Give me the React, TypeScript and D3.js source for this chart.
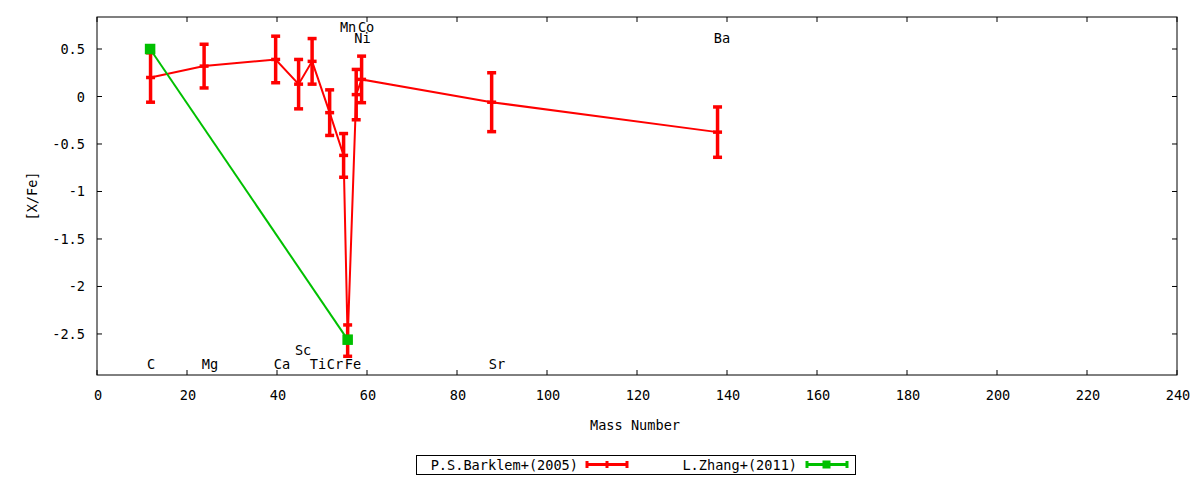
import * as d3 from 'd3';

// Barklem et al. (2005) abundances
const barklemElements = ['C', 'Mg', 'Ca', 'Sc', 'Ti', 'Cr', 'Mn', 'Fe', 'Co', 'Ni', 'Sr', 'Ba'];
const barklemMass = [11.9, 23.8, 39.7, 44.8, 47.8, 51.7, 54.8, 55.7, 57.6, 58.8, 87.7, 137.9];
const barklemValue = [0.2, 0.32, 0.39, 0.13, 0.37, -0.17, -0.62, -2.57, 0.02, 0.18, -0.06, -0.375];
const barklemError = [0.26, 0.23, 0.245, 0.26, 0.24, 0.24, 0.23, 0.165, 0.265, 0.245, 0.31, 0.265];

// Zhang et al. (2011)
const zhangMass = [11.8, 55.7];
const zhangValue = [0.5, -2.56];
const zhangError = [0, 0];

// element labels placed in the plot
const labelText = ['C', 'Mg', 'Ca', 'Sc', 'Ti', 'Cr', 'Fe', 'Sr', 'Mn', 'Co', 'Ni', 'Ba'];
const labelMass = [12.0, 25.1, 41.1, 45.8, 49.1, 52.9, 56.9, 88.9, 55.8, 59.8, 59.0, 138.9];
const labelY = [-2.82, -2.82, -2.82, -2.67, -2.82, -2.82, -2.82, -2.82, 0.73, 0.73, 0.615, 0.62];

const xTicks = d3.range(0, 241, 20);
const yTicks = [0.5, 0, -0.5, -1, -1.5, -2, -2.5];

const seriesNames = ['P.S.Barklem+(2005)', 'L.Zhang+(2011)'];
const RED = '#ff0000';
const GREEN = '#00c000';
const FONT = '"DejaVu Sans Mono", monospace';

export default function App() {
  const width = 1200;
  const height = 480;
  const left = 97;
  const right = 1177;
  const top = 17;
  const bottom = 375;

  const x = d3.scaleLinear().domain([0, 240]).range([left, right]);
  const y = d3.scaleLinear().domain([-2.932, 0.837]).range([bottom, top]);

  const line = d3.line<[number, number]>()
    .x((d) => x(d[0]))
    .y((d) => y(d[1]));

  const redPts = barklemMass.map((m, i) => [m, barklemValue[i]] as [number, number]);
  const greenPts = zhangMass.map((m, i) => [m, zhangValue[i]] as [number, number]);

  const tick = 5;
  const cap = 4.5;

  return (
    <svg width={width} height={height} style={{ position: 'absolute', left: 0, top: 0, background: '#fff' }}
      fontFamily={FONT} fontSize={13.6}>
      <rect x={0} y={0} width={width} height={height} fill="#fff" />

      {/* ticks, mirrored on all sides */}
      {xTicks.map((t) => (
        <g key={'xt' + t}>
          <line x1={x(t)} x2={x(t)} y1={bottom} y2={bottom - tick} stroke="#000" />
          <line x1={x(t)} x2={x(t)} y1={top} y2={top + tick} stroke="#000" />
          <text x={x(t) + 1} y={395} textAnchor="middle" dominantBaseline="central">{t}</text>
        </g>
      ))}
      {yTicks.map((t) => (
        <g key={'yt' + t}>
          <line x1={left} x2={left + tick} y1={y(t)} y2={y(t)} stroke="#000" />
          <line x1={right} x2={right - tick} y1={y(t)} y2={y(t)} stroke="#000" />
          <text x={85} y={y(t)} textAnchor="end" dominantBaseline="central">{String(t)}</text>
        </g>
      ))}

      {/* element labels */}
      {labelText.map((s, i) => (
        <text key={'lab' + i} x={x(labelMass[i])} y={y(labelY[i])} textAnchor="middle" dominantBaseline="central">{s}</text>
      ))}

      {/* Barklem series */}
      <path d={line(redPts)!} fill="none" stroke={RED} strokeWidth={2} />
      {barklemMass.map((m, i) => {
        const cx = x(m);
        const y0 = y(barklemValue[i] - barklemError[i]);
        const y1 = y(barklemValue[i] + barklemError[i]);
        const yc = y(barklemValue[i]);
        return (
          <g key={'rb' + barklemElements[i]} stroke={RED} strokeWidth={3.5}>
            <line x1={cx} x2={cx} y1={y0} y2={y1} />
            <line x1={cx - cap} x2={cx + cap} y1={y0} y2={y0} />
            <line x1={cx - cap} x2={cx + cap} y1={y1} y2={y1} />
            <line x1={cx - cap} x2={cx + cap} y1={yc} y2={yc} />
          </g>
        );
      })}

      {/* Zhang series */}
      <path d={line(greenPts)!} fill="none" stroke={GREEN} strokeWidth={2} />
      {zhangMass.map((m, i) => {
        const cx = x(m);
        const yc = y(zhangValue[i]);
        const y0 = y(zhangValue[i] - zhangError[i]);
        const y1 = y(zhangValue[i] + zhangError[i]);
        return (
          <g key={'gb' + i} stroke={GREEN} strokeWidth={3.5}>
            <line x1={cx} x2={cx} y1={y0} y2={y1} />
            <rect x={cx - 4.5} y={yc - 4.5} width={9} height={9} fill={GREEN} strokeWidth={1.5} />
          </g>
        );
      })}

      {/* frame */}
      <rect x={left} y={top} width={right - left} height={bottom - top} fill="none" stroke="#000" strokeWidth={1} />

      {/* axis titles */}
      <text x={635} y={425} textAnchor="middle" dominantBaseline="central">Mass Number</text>
      <text transform="translate(32,196) rotate(-90)" textAnchor="middle" dominantBaseline="central">[X/Fe]</text>

      {/* legend */}
      <rect x={416.5} y={455.5} width={439} height={19} fill="none" stroke="#000" strokeWidth={1} />
      <text x={578} y={465} textAnchor="end" dominantBaseline="central">{seriesNames[0]}</text>
      <g stroke={RED} strokeWidth={3}>
        <line x1={587} x2={627} y1={464.5} y2={464.5} />
        <line x1={587} x2={587} y1={461} y2={468} />
        <line x1={627} x2={627} y1={461} y2={468} />
        <line x1={607} x2={607} y1={461} y2={468} />
      </g>
      <text x={797} y={465} textAnchor="end" dominantBaseline="central">{seriesNames[1]}</text>
      <g stroke={GREEN} strokeWidth={3}>
        <line x1={807} x2={847} y1={464.5} y2={464.5} />
        <line x1={807} x2={807} y1={461} y2={468} />
        <line x1={847} x2={847} y1={461} y2={468} />
        <rect x={823} y={461} width={7} height={7} fill={GREEN} strokeWidth={1} />
      </g>
    </svg>
  );
}
